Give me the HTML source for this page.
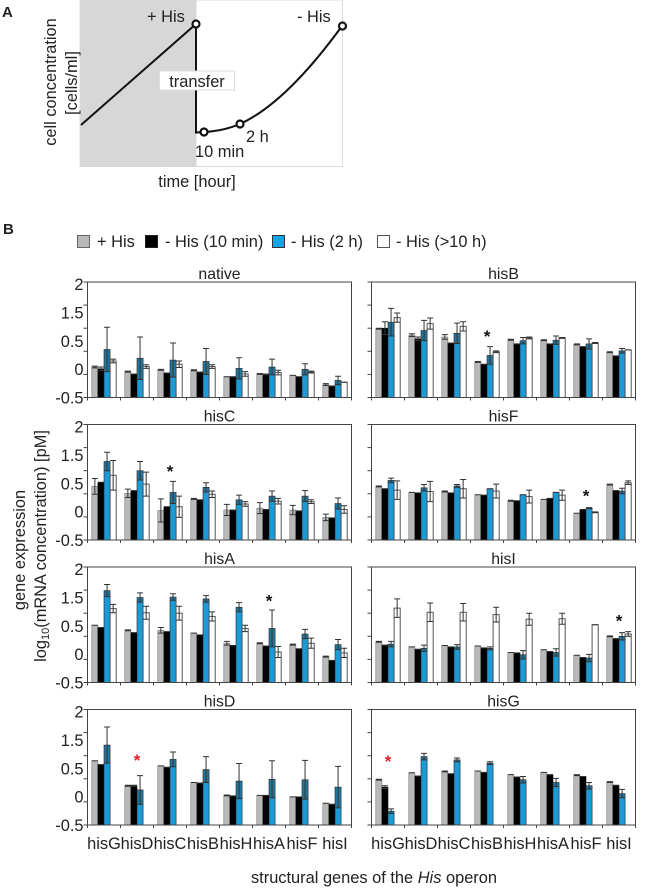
<!DOCTYPE html>
<html lang="en">
<head>
<meta charset="utf-8">
<title>His operon gene expression</title>
<style>
html,body{margin:0;padding:0;background:#fff;}
svg{display:block;}
text{font-family:"Liberation Sans",sans-serif;fill:#222;font-size:16.4px;}
</style>
</head>
<body>
<svg id="figure" xmlns="http://www.w3.org/2000/svg" width="651" height="892" viewBox="0 0 651 892">
  <g>
    <text x="2" y="17" style="font-weight:bold;font-size:15px">A</text>
    <rect x="80" y="0" width="262.500" height="166.500" fill="#fff" stroke="#dcdcdc" stroke-width="1"/>
    <rect x="80" y="0" width="116.500" height="167" fill="#d7d7d7"/>
    <path d="M81 125 L196 24 L196 132.500 L204 132 C216 131.500 228 129 240 124 C275 108 310 70 342 26" fill="none" stroke="#111" stroke-width="2"/>
    <circle cx="196" cy="24" r="3.500" fill="#fff" stroke="#111" stroke-width="2.200"/>
    <circle cx="204" cy="132" r="3.500" fill="#fff" stroke="#111" stroke-width="2.200"/>
    <circle cx="240" cy="124" r="3.500" fill="#fff" stroke="#111" stroke-width="2.200"/>
    <circle cx="342.500" cy="26" r="3.500" fill="#fff" stroke="#111" stroke-width="2.200"/>
    <rect x="159.500" y="71" width="75" height="19" fill="#fff" stroke="#ddd" stroke-width="1"/>
    <text x="197" y="87" text-anchor="middle">transfer</text>
    <text x="147" y="22">+ His</text>
    <text x="297" y="22">- His</text>
    <text x="246" y="142">2 h</text>
    <text x="195" y="157">10 min</text>
    <text x="197" y="187" text-anchor="middle">time [hour]</text>
    <text transform="translate(56,82) rotate(-90)" text-anchor="middle">cell concentration</text>
    <text transform="translate(77,83) rotate(-90)" text-anchor="middle">[cells/ml]</text>
  </g>
  <text x="3" y="234" style="font-weight:bold;font-size:15px">B</text>
  <g>
    <rect x="77.500" y="235.500" width="12" height="12" fill="#b9b9b9" stroke="#666"/>
    <text x="97" y="247">+ His</text>
    <rect x="145.500" y="235.500" width="12" height="12" fill="#000" stroke="#222"/>
    <text x="165" y="247">- His (10 min)</text>
    <rect x="272.500" y="235.500" width="12" height="12" fill="#12a5e6" stroke="#333"/>
    <text x="291" y="247">- His (2 h)</text>
    <rect x="377.500" y="235.500" width="12" height="12" fill="#fff" stroke="#555"/>
    <text x="396" y="247">- His (&gt;10 h)</text>
  </g>
  <text transform="translate(25,550) rotate(-90)" text-anchor="middle">gene expression</text>
  <text transform="translate(46,546) rotate(-90)" text-anchor="middle">log<tspan dy="3" style="font-size:11px">10</tspan><tspan dy="-3">(mRNA concentration) [pM]</tspan></text>
  <text x="374" y="883" text-anchor="middle">structural genes of the <tspan font-style="italic">His</tspan> operon</text>
  <g id="panels"></g>
</svg>
<script>
const categories = ['hisG','hisD','hisC','hisB','hisH','hisA','hisF','hisI'];
const tickValues = [-0.5,0,0.5,1,1.5,2];
const tickLabels = ['2','1.5','0.5','0','-0.5'];
const seriesKeys = ['plus-his','minus-his-10-min','minus-his-2-h','minus-his-10-h'];

const nativeValues = [
  [0.16,0.06,0.10,0.09,-0.05,0.01,-0.02,-0.22],
  [0.12,0.01,0.03,0.05,-0.05,0.00,-0.05,-0.25],
  [0.54,0.35,0.31,0.28,0.13,0.16,0.11,-0.13],
  [0.29,0.17,0.22,0.17,0.01,0.04,0.05,-0.17]];
const nativeErrors = [
  [0.02,0.01,0.01,0.01,0.00,0.01,0.00,0.02],
  [0.04,0.00,0.00,0.00,0.00,0.01,0.00,0.00],
  [0.48,0.46,0.37,0.28,0.23,0.17,0.12,0.09],
  [0.04,0.04,0.07,0.04,0.05,0.05,0.02,0.00]];

const hisBValues = [
  [0.99,0.85,0.81,0.27,0.75,0.74,0.65,0.48],
  [1.00,0.77,0.68,0.22,0.66,0.66,0.60,0.40],
  [1.13,0.95,0.89,0.41,0.73,0.74,0.66,0.51],
  [1.23,1.10,1.04,0.49,0.79,0.79,0.68,0.53]];
const hisBErrors = [
  [0.01,0.03,0.05,0.01,0.01,0.01,0.01,0.01],
  [0.14,0.04,0.00,0.00,0.00,0.00,0.00,0.00],
  [0.30,0.22,0.22,0.19,0.07,0.09,0.11,0.05],
  [0.10,0.12,0.10,0.02,0.02,0.01,0.01,0.00]];

const hisCValues = [
  [0.66,0.51,0.14,0.39,0.15,0.19,0.15,-0.01],
  [0.75,0.57,0.22,0.37,0.15,0.16,0.13,-0.02],
  [1.20,1.00,0.53,0.64,0.37,0.45,0.45,0.29],
  [0.90,0.71,0.22,0.49,0.28,0.34,0.33,0.16]];
const hisCErrors = [
  [0.17,0.09,0.25,0.01,0.12,0.12,0.10,0.07],
  [0.00,0.00,0.00,0.00,0.00,0.00,0.00,0.00],
  [0.20,0.20,0.24,0.10,0.10,0.11,0.12,0.12],
  [0.32,0.26,0.23,0.07,0.05,0.06,0.04,0.08]];

const hisFValues = [
  [0.66,0.53,0.55,0.48,0.35,0.38,0.08,0.70],
  [0.61,0.52,0.52,0.47,0.35,0.40,0.16,0.57],
  [0.79,0.63,0.67,0.61,0.48,0.53,0.19,0.56],
  [0.58,0.55,0.61,0.56,0.44,0.47,0.10,0.74]];
const hisFErrors = [
  [0.01,0.00,0.01,0.00,0.01,0.00,0.00,0.01],
  [0.00,0.00,0.00,0.00,0.00,0.00,0.00,0.00],
  [0.05,0.07,0.03,0.00,0.00,0.00,0.01,0.06],
  [0.20,0.22,0.20,0.15,0.14,0.11,0.01,0.04]];

const hisAValues = [
  [0.74,0.63,0.63,0.57,0.35,0.35,0.32,0.06],
  [0.69,0.58,0.60,0.53,0.30,0.29,0.23,-0.02],
  [1.49,1.34,1.35,1.31,1.13,0.67,0.55,0.32],
  [1.10,1.01,1.00,0.93,0.67,0.16,0.35,0.14]];
const hisAErrors = [
  [0.00,0.01,0.06,0.00,0.04,0.01,0.01,0.01],
  [0.00,0.00,0.00,0.00,0.00,0.00,0.00,0.00],
  [0.13,0.10,0.07,0.07,0.10,0.40,0.10,0.11],
  [0.09,0.14,0.15,0.10,0.07,0.12,0.11,0.10]];

const hisIValues = [
  [0.38,0.27,0.30,0.29,0.15,0.21,0.09,0.50],
  [0.31,0.22,0.27,0.25,0.14,0.17,0.04,0.45],
  [0.33,0.24,0.27,0.24,0.10,0.15,0.03,0.50],
  [1.11,1.02,1.02,0.97,0.87,0.88,0.75,0.55]];
const hisIErrors = [
  [0.01,0.00,0.00,0.00,0.00,0.00,0.00,0.01],
  [0.00,0.00,0.00,0.00,0.00,0.00,0.00,0.00],
  [0.06,0.07,0.05,0.03,0.09,0.08,0.08,0.08],
  [0.20,0.20,0.19,0.16,0.13,0.12,0.00,0.05]];

const hisDValues = [
  [0.89,0.35,0.78,0.42,0.14,0.14,0.11,-0.03],
  [0.81,0.35,0.75,0.41,0.13,0.14,0.11,-0.05],
  [1.23,0.26,0.92,0.70,0.45,0.49,0.48,0.32]];
const hisDErrors = [
  [0.00,0.01,0.00,0.00,0.01,0.00,0.00,0.00],
  [0.00,0.01,0.00,0.00,0.00,0.00,0.00,0.00],
  [0.39,0.31,0.16,0.28,0.38,0.40,0.42,0.45]];

const hisGValues = [
  [0.48,0.63,0.66,0.67,0.59,0.64,0.58,0.43],
  [0.32,0.56,0.61,0.64,0.54,0.59,0.55,0.36],
  [-0.20,0.98,0.91,0.84,0.48,0.42,0.35,0.18]];
const hisGErrors = [
  [0.01,0.00,0.01,0.00,0.00,0.00,0.01,0.01],
  [0.03,0.00,0.00,0.00,0.00,0.00,0.00,0.00],
  [0.05,0.07,0.04,0.03,0.07,0.09,0.07,0.09]];

const svgNS = 'http://www.w3.org/2000/svg';
const root = document.getElementById('panels');
const seriesFill = ['#b9b9b9','#000000','#1b9ad6','#ffffff'];
const seriesStroke = ['#777','#111','#222','#555'];

function make(tag, attrs, parent) {
  const el = document.createElementNS(svgNS, tag);
  for (const k in attrs) el.setAttribute(k, attrs[k]);
  parent.appendChild(el);
  return el;
}

function drawPanel(title, values, errors, left, top, width, height, showY, showX, star, starValue, starColor) {
  const g = make('g', {}, root);
  
  
  const bottom = top + height;
  const yScale = v => bottom - (v - tickValues[0]) / (tickValues[tickValues.length - 1] - tickValues[0]) * height;
  const band = width / categories.length;
  const barW = 6.1;
  const xGroup = i => left + band * i + (band - barW * 4) / 2;

  const titleEl = make('text', {x: left + width / 2, y: top - 3, 'text-anchor': 'middle', style: 'font-size:15.8px'}, g);
  titleEl.textContent = title;
  
  

  values.forEach((vals, s) => {
    vals.forEach((v, i) => {
      const x = xGroup(i) + barW * s;
      const y = yScale(v);
      const bar = make('rect', {x: x, y: y, width: barW, height: bottom - y, fill: seriesFill[s], stroke: seriesStroke[s], 'stroke-width': s === 3 ? 1 : 0.6}, g);
      
      
    });
  });

  errors.forEach((errs, s) => {
    errs.forEach((e, i) => {
      const cx = xGroup(i) + barW * s + barW / 2;
      const v = values[s][i];
      const hi = yScale(v + e);
      const lo = Math.min(yScale(v - e), bottom);
      if (s === 2 && e > 0) {
        const shade = make('rect', {x: cx - barW / 2, y: yScale(v), width: barW, height: Math.max(0, lo - yScale(v)), fill: '#333', opacity: 0.35}, g);
        
        
      }
      const path = 'M' + (cx - 3) + ' ' + hi + 'H' + (cx + 3) + 'M' + cx + ' ' + hi + 'V' + lo + 'M' + (cx - 3) + ' ' + lo + 'H' + (cx + 3);
      const err = make('path', {d: path, fill: 'none', stroke: '#333', 'stroke-width': 1}, g);
      
      
    });
  });

  const frame = make('rect', {x: left, y: top, width: width, height: height, fill: 'none', stroke: '#444', 'stroke-width': 1}, g);
  
  

  tickValues.forEach(t => {
    const y = yScale(t);
    const tick = make('line', {x1: left - 4, x2: left, y1: y, y2: y, stroke: '#444', 'stroke-width': 1}, g);
    
    
  });
  categories.concat(['']).forEach((c, i) => {
    const x = left + band * i;
    const tick = make('line', {x1: x, x2: x, y1: bottom, y2: bottom + 3, stroke: '#444', 'stroke-width': 1}, g);
    
    
  });

  if (showY) {
    tickLabels.forEach((lab, i) => {
      const y = top + 2 + (height - 2) * i / (tickLabels.length - 1);
      const t = make('text', {x: left - 4, y: y + 6, 'text-anchor': 'end'}, g);
      t.textContent = lab;
      
      
    });
  }
  if (showX) {
    categories.forEach((c, i) => {
      const t = make('text', {x: left + band * i + band / 2, y: bottom + 24, 'text-anchor': 'middle'}, g);
      t.textContent = c;
      
      
    });
  }
  if (star >= 0) {
    const s = make('text', {x: left + band * star + band / 2, y: yScale(starValue) + 8, 'text-anchor': 'middle', style: 'font-size:17px;font-weight:bold;fill:' + starColor}, g);
    s.textContent = '*';
    
    
  }
}

const L = 87.5, R = 371.5, W = 264, H = 115.5;
drawPanel('native', nativeValues, nativeErrors, L, 282, W, H, true, false, -1, 0, '#111');
drawPanel('hisB', hisBValues, hisBErrors, R, 282, W, H, false, false, 3, 0.87, '#111');
drawPanel('hisC', hisCValues, hisCErrors, L, 424.5, W, H, true, false, 2, 1.04, '#111');
drawPanel('hisF', hisFValues, hisFErrors, R, 424.5, W, H, false, false, 6, 0.51, '#111');
drawPanel('hisA', hisAValues, hisAErrors, L, 567, W, H, true, false, 5, 1.32, '#111');
drawPanel('hisI', hisIValues, hisIErrors, R, 567, W, H, false, false, 7, 0.89, '#111');
drawPanel('hisD', hisDValues, hisDErrors, L, 709.5, W, H, true, true, 1, 0.95, '#e0202a');
drawPanel('hisG', hisGValues, hisGErrors, R, 709.5, W, H, false, true, 0, 0.93, '#e0202a');
</script>
</body>
</html>
